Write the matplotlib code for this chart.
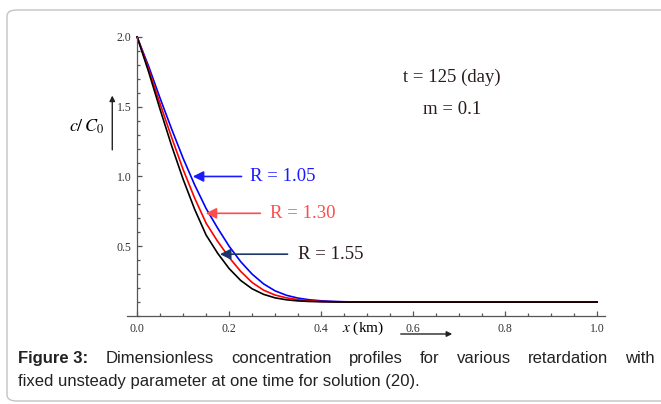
import numpy as np
import matplotlib
matplotlib.use("Agg")
import matplotlib.pyplot as plt
from matplotlib.patches import FancyBboxPatch
from matplotlib.ticker import MultipleLocator

plt.rcParams["mathtext.fontset"] = "stix"

x = [0.0, 0.025, 0.05, 0.075, 0.1, 0.125, 0.15, 0.175, 0.2, 0.225,
     0.25, 0.275, 0.3, 0.325, 0.35, 0.375, 0.4, 0.425, 0.45, 0.475,
     0.5, 0.6, 0.8, 1.0]
c_r105 = [2.0, 1.79, 1.56, 1.34, 1.13, 0.94, 0.77, 0.63, 0.50, 0.39,
          0.30, 0.23, 0.18, 0.148, 0.128, 0.116, 0.109, 0.105, 0.102, 0.101,
          0.1, 0.1, 0.1, 0.1]
c_r130 = [2.0, 1.77, 1.52, 1.28, 1.05, 0.845, 0.665, 0.535, 0.42, 0.32,
          0.24, 0.185, 0.15, 0.13, 0.117, 0.109, 0.104, 0.102, 0.101, 0.1,
          0.1, 0.1, 0.1, 0.1]
c_r155 = [2.0, 1.75, 1.48, 1.22, 0.98, 0.765, 0.58, 0.45, 0.34, 0.255,
          0.195, 0.155, 0.13, 0.116, 0.108, 0.104, 0.102, 0.101, 0.1, 0.1,
          0.1, 0.1, 0.1, 0.1]

xticks = [0.0, 0.2, 0.4, 0.6, 0.8, 1.0]
yticks = [0.5, 1.0, 1.5, 2.0]

serif = "Liberation Serif"
axcol = "#555555"

fig = plt.figure(figsize=(6.61, 4.04), dpi=100)
ax = fig.add_axes([127/661, 88/404, 478/661, 281/404])

# rounded frame around the whole figure
frame = FancyBboxPatch((7/661, 3/404), 680/661, 391/404,
                       boxstyle="round,pad=0,rounding_size=0.015",
                       transform=fig.transFigure, fill=False,
                       ec="#c4c4c4", lw=1.0)
fig.patches.append(frame)

ax.plot(x, c_r105, color="#0000ff", lw=1.2)
ax.plot(x, c_r130, color="#ff0000", lw=1.2)
ax.plot(x, c_r155, color="#000000", lw=1.2)

ax.set_xlim(-0.022, 1.017)
ax.set_ylim(0, 2.014)

for s in ["top", "right"]:
    ax.spines[s].set_visible(False)
ax.spines["left"].set_position(("data", 0))
ax.spines["left"].set_bounds(0, 2.0)
for s in ["left", "bottom"]:
    ax.spines[s].set_color(axcol)
    ax.spines[s].set_linewidth(0.9)

ax.set_xticks(xticks)
ax.set_xticklabels(["%.1f" % v for v in xticks])
ax.set_yticks(yticks)
ax.set_yticklabels(["%.1f" % v for v in yticks])
ax.xaxis.set_minor_locator(MultipleLocator(0.05))
ax.yaxis.set_minor_locator(MultipleLocator(0.1))
ax.tick_params(which="both", direction="in", color=axcol, width=0.9)
ax.tick_params(which="major", length=3.5)
ax.tick_params(which="minor", length=2.2)
ax.tick_params(axis="x", pad=5)
ax.tick_params(axis="y", pad=4)
for lab in ax.get_xticklabels() + ax.get_yticklabels():
    lab.set_fontfamily(serif)
    lab.set_fontsize(8.5)
    lab.set_color("#333333")

# axis labels with arrows
ax.text(0.491, -0.086, r"$x$ (km)", family=serif, fontsize=11,
        ha="center", va="center", clip_on=False)
ax.annotate("", xy=(0.691, -0.129), xytext=(0.567, -0.129),
            arrowprops=dict(arrowstyle="-|>", color="#222222", lw=1.0,
                            mutation_scale=8),
            annotation_clip=False)
ax.text(-0.111, 1.357, r"$c/\,C_0$", fontsize=13,
        ha="center", va="center", clip_on=False)
ax.annotate("", xy=(-0.054, 1.6), xytext=(-0.054, 1.171),
            arrowprops=dict(arrowstyle="-|>", color="#222222", lw=1.0,
                            mutation_scale=8),
            annotation_clip=False)

# parameters
ax.text(0.685, 1.707, "t = 125 (day)", family=serif, fontsize=13.5,
        color="#2b1b1b", ha="center", va="center")
ax.text(0.685, 1.479, "m = 0.1", family=serif, fontsize=13.5,
        color="#2b1b1b", ha="center", va="center")

# curve labels
labels = [("R = 1.05", 0.246, 1.0, 0.115, 0.233, "#1a1aff", "#1a1aff"),
          ("R = 1.30", 0.289, 0.736, 0.143, 0.274, "#ff4c4c", "#ff4c4c"),
          ("R = 1.55", 0.350, 0.443, 0.174, 0.333, "#2a1a1a", "#1c3566")]
for txt, tx, ty, ax0, ax1, tcol, acol in labels:
    ax.text(tx, ty, txt, family=serif, fontsize=13.5, color=tcol,
            ha="left", va="center")
    ax.annotate("", xy=(ax0, ty), xytext=(ax1, ty),
                arrowprops=dict(arrowstyle="-|>", color=acol, lw=1.2,
                                mutation_scale=16))

# caption, first line justified
line1 = ["Figure 3:", "Dimensionless", "concentration", "profiles", "for",
         "various", "retardation", "with"]
line2 = "fixed unsteady parameter at one time for solution (20)."
cap_font = dict(family="Liberation Sans", fontsize=12, color="#222222")
renderer = fig.canvas.get_renderer()
x_left, x_right = 18 / 661, 655 / 661
words = []
for i, w in enumerate(line1):
    t = fig.text(0, (404 - 363) / 404, w, ha="left", va="baseline",
                 weight="bold" if i == 0 else "normal", **cap_font)
    words.append(t)
widths = [t.get_window_extent(renderer).width / 661 for t in words]
gap = (x_right - x_left - sum(widths)) / (len(words) - 1)
pos = x_left
for t, w in zip(words, widths):
    t.set_x(pos)
    pos += w + gap
fig.text(x_left, (404 - 386) / 404, line2, ha="left", va="baseline",
         **cap_font)

fig.savefig("out.png", dpi=100)
